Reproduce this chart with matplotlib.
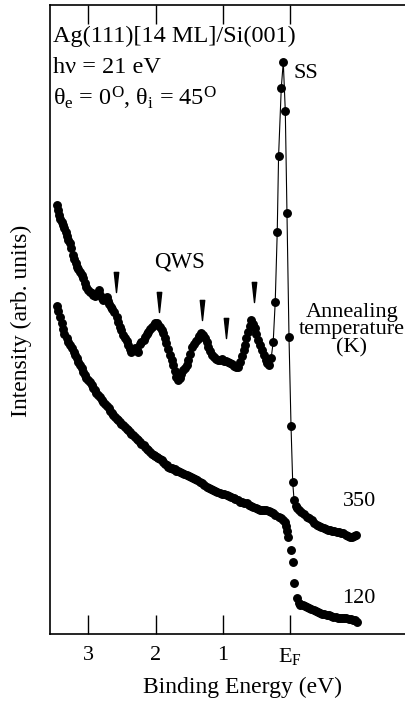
import matplotlib
matplotlib.use('Agg')
import matplotlib.pyplot as plt
import numpy as np
from matplotlib.path import Path

plt.rcParams['font.family'] = ['Liberation Serif', 'DejaVu Serif']
plt.rcParams['mathtext.fontset'] = 'custom'
plt.rcParams['mathtext.rm'] = 'Liberation Serif'
plt.rcParams['mathtext.it'] = 'Liberation Serif:italic'


# Annealed at 350 K: binding energy (eV) and intensity (arb. units)
E_350 = [3.47, 3.45, 3.43, 3.42, 3.39, 3.38, 3.36, 3.34, 3.32, 3.30, 3.27, 3.26, 3.23, 3.21,
         3.19, 3.17, 3.16, 3.13, 3.10, 3.08, 3.05, 3.03, 3.00, 2.98, 2.95, 2.93, 2.90, 2.87,
         2.84, 2.82, 2.80, 2.78, 2.75, 2.73, 2.71, 2.69, 2.67, 2.65, 2.62, 2.58, 2.56, 2.53,
         2.51, 2.49, 2.46, 2.43, 2.41, 2.38, 2.36, 2.33, 2.31, 2.28, 2.26, 2.23, 2.21, 2.18,
         2.16, 2.13, 2.11, 2.08, 2.06, 2.03, 2.01, 1.98, 1.96, 1.94, 1.91, 1.89, 1.86, 1.84,
         1.81, 1.79, 1.76, 1.74, 1.71, 1.69, 1.67, 1.64, 1.62, 1.59, 1.56, 1.54, 1.52, 1.49,
         1.46, 1.43, 1.40, 1.37, 1.35, 1.32, 1.30, 1.27, 1.24, 1.22, 1.19, 1.16, 1.13, 1.10,
         1.07, 1.04, 1.01, 0.98, 0.95, 0.92, 0.89, 0.86, 0.83, 0.80, 0.77, 0.74, 0.71, 0.69,
         0.67, 0.65, 0.62, 0.60, 0.58, 0.55, 0.52, 0.50, 0.48, 0.45, 0.42, 0.39, 0.36, 0.34,
         0.31, 0.28, 0.25, 0.22, 0.19, 0.17, 0.13, 0.10, 0.07, 0.045, 0.015, -0.015, -0.04,
         -0.06, -0.09, -0.11, -0.14, -0.17, -0.21, -0.25, -0.28, -0.32, -0.36, -0.40, -0.43,
         -0.46, -0.50, -0.54, -0.57, -0.60, -0.63, -0.66, -0.70, -0.73, -0.76, -0.79, -0.83,
         -0.86, -0.89, -0.92, -0.95, -0.98]
I_350 = [42.9, 42.4, 41.9, 41.5, 41.2, 40.9, 40.6, 40.2, 39.8, 39.4, 39.1, 38.6, 37.9, 37.5,
         37.1, 36.7, 36.5, 36.2, 35.9, 35.6, 35.1, 34.7, 34.4, 34.2, 34.1, 33.9, 33.8, 34.0,
         34.4, 33.9, 33.6, 33.4, 33.5, 33.7, 33.3, 33.0, 32.7, 32.5, 32.2, 31.7, 31.2, 30.7,
         30.4, 29.9, 29.6, 29.3, 28.9, 28.5, 28.2, 28.5, 28.6, 28.4, 28.2, 29.0, 29.2, 29.4,
         29.7, 30.0, 30.2, 30.5, 30.7, 30.9, 31.1, 31.1, 30.9, 30.7, 30.4, 30.1, 29.6, 29.1,
         28.5, 27.9, 27.4, 26.9, 26.3, 25.7, 25.4, 25.6, 26.0, 26.4, 26.6, 26.9, 27.4, 28.0,
         28.7, 29.0, 29.3, 29.5, 29.8, 30.1, 29.9, 29.6, 29.2, 28.7, 28.3, 27.9, 27.7, 27.5,
         27.4, 27.4, 27.5, 27.3, 27.3, 27.2, 27.1, 27.0, 26.8, 26.7, 26.7, 27.2, 27.8, 28.4,
         28.9, 29.6, 30.2, 30.8, 31.4, 31.0, 30.6, 30.0, 29.4, 28.9, 28.4, 27.9, 27.4, 27.1,
         26.9, 27.6, 29.2, 33.2, 40.2, 47.8, 54.6, 57.2, 52.3, 42.1, 29.7, 20.8, 15.2,
         13.4, 12.8, 12.6, 12.4, 12.2, 12.0, 11.7, 11.6, 11.4, 11.1, 10.9, 10.8,
         10.7, 10.6, 10.5, 10.4, 10.4, 10.3, 10.3, 10.2, 10.2, 10.1, 10.1, 9.9,
         9.8, 9.7, 9.7, 9.8, 9.9]

# Annealed at 120 K
E_120 = [3.47, 3.45, 3.42, 3.40, 3.38, 3.36, 3.32, 3.30, 3.27, 3.25, 3.22, 3.20, 3.17, 3.15,
         3.13, 3.10, 3.08, 3.05, 3.03, 3.00, 2.98, 2.95, 2.93, 2.90, 2.88, 2.85, 2.83, 2.80,
         2.78, 2.75, 2.73, 2.70, 2.68, 2.65, 2.63, 2.60, 2.58, 2.56, 2.53, 2.51, 2.48, 2.46,
         2.43, 2.41, 2.38, 2.36, 2.33, 2.31, 2.28, 2.26, 2.23, 2.21, 2.18, 2.16, 2.13, 2.11,
         2.08, 2.06, 2.03, 2.01, 1.98, 1.96, 1.93, 1.91, 1.89, 1.86, 1.83, 1.81, 1.79, 1.76,
         1.74, 1.71, 1.69, 1.66, 1.64, 1.61, 1.58, 1.54, 1.51, 1.48, 1.44, 1.41, 1.38, 1.34,
         1.31, 1.28, 1.24, 1.21, 1.18, 1.14, 1.12, 1.08, 1.04, 1.01, 0.98, 0.94, 0.91, 0.88,
         0.84, 0.82, 0.78, 0.74, 0.71, 0.68, 0.64, 0.61, 0.58, 0.55, 0.51, 0.48, 0.45, 0.42,
         0.38, 0.35, 0.31, 0.28, 0.25, 0.22, 0.17, 0.14, 0.10, 0.07, 0.06, 0.04, 0.03, -0.01,
         -0.04, -0.06, -0.10, -0.13, -0.15, -0.19, -0.22, -0.25, -0.28, -0.31, -0.35, -0.38,
         -0.41, -0.45, -0.48, -0.51, -0.55, -0.58, -0.61, -0.64, -0.68, -0.71, -0.74, -0.78,
         -0.81, -0.84, -0.88, -0.91, -0.94, -0.97, -0.99]
I_120 = [32.8, 32.3, 31.7, 31.1, 30.5, 30.0, 29.6, 29.2, 28.9, 28.6, 28.2, 27.9, 27.6, 27.2,
         26.9, 26.6, 26.2, 25.9, 25.6, 25.4, 25.2, 24.9, 24.6, 24.4, 24.1, 23.9, 23.7, 23.4,
         23.2, 23.0, 22.8, 22.6, 22.3, 22.1, 21.9, 21.7, 21.5, 21.4, 21.2, 21.0, 20.9, 20.7,
         20.5, 20.4, 20.2, 20.0, 19.9, 19.7, 19.5, 19.4, 19.2, 19.0, 18.9, 18.7, 18.5, 18.4,
         18.2, 18.0, 17.9, 17.8, 17.7, 17.6, 17.5, 17.4, 17.2, 17.0, 16.9, 16.7, 16.6, 16.6,
         16.5, 16.5, 16.3, 16.3, 16.2, 16.1, 16.0, 15.9, 15.8, 15.7, 15.6, 15.5, 15.4, 15.2,
         15.1, 14.9, 14.7, 14.6, 14.5, 14.4, 14.3, 14.2, 14.1, 14.0, 14.0, 13.9, 13.8, 13.7,
         13.6, 13.5, 13.4, 13.2, 13.2, 13.1, 13.1, 12.9, 12.8, 12.7, 12.6, 12.5, 12.4, 12.4,
         12.4, 12.4, 12.3, 12.2, 12.1, 11.9, 11.7, 11.6, 11.4, 11.2, 10.8, 10.3, 9.7, 8.4,
         7.2, 5.1, 3.6, 3.1, 2.9, 2.9, 2.8, 2.7, 2.6, 2.5, 2.4, 2.3,
         2.2, 2.1, 2.0, 2.0, 1.9, 1.9, 1.8, 1.7, 1.7, 1.6, 1.6, 1.6,
         1.6, 1.6, 1.5, 1.5, 1.4, 1.4, 1.2]

# QWS markers (energy, intensity of wedge centre)
E_qws = [2.59, 1.95, 1.31, 0.95, 0.54]
I_qws = [35.15, 33.2, 32.4, 30.55, 34.2]

xticks = [3, 2, 1, 0]
xticklabels = ['3', '2', '1', r'E$_{\rm F}$']


fig = plt.figure(figsize=(4.06, 7.03), dpi=100)
ax = fig.add_axes([0.1232, 0.0982, 0.8768, 0.8947])

ax.plot(E_350, I_350, '-', color='black', lw=0.8, marker='o', ms=5.4, mec='black', mfc='black')
ax.plot(E_120, I_120, 'o', color='black', ms=5.4)

# narrow wedges pointing down
wedge = Path([(-0.22, 1.0), (0.22, 1.0), (0.0, -1.0), (-0.22, 1.0)],
             [Path.MOVETO, Path.LINETO, Path.LINETO, Path.CLOSEPOLY])
ax.plot(E_qws, I_qws, linestyle='none', marker=wedge, ms=14.5, color='black')

ax.set_xlim(3.571, -1.726)
ax.set_ylim(0, 62.9)
ax.set_xticks(xticks)
ax.set_xticklabels(xticklabels)
ax.set_yticks([])
ax.spines['right'].set_visible(False)
for s in ['left', 'top', 'bottom']:
    ax.spines[s].set_linewidth(1.2)
ax.tick_params(axis='x', direction='in', length=14, width=1.0, top=True,
               labelsize=16, pad=9)

ax.set_xlabel('Binding Energy (eV)', fontsize=17)
ax.xaxis.set_label_coords(0.542, -0.068)
ax.set_ylabel('Intensity (arb. units)', fontsize=17)
ax.yaxis.set_label_coords(-0.05, 0.497)

ax.text(3.52, 59.2, 'Ag(111)[14 ML]/Si(001)', fontsize=17.5, va='baseline')
ax.text(3.52, 56.1, 'h\u03bd = 21 eV', fontsize=17.5, va='baseline')
ax.text(3.52, 52.8, '\u03b8$_{\\rm e}$ = 0$^{\\rm O}$, \u03b8$_{\\rm i}$ = 45$^{\\rm O}$',
        fontsize=17.5, va='baseline')
ax.text(-0.05, 55.6, 'SS', fontsize=16, va='baseline')
ax.text(1.64, 37.2, 'QWS', fontsize=16.5, ha='center', va='center')
ax.text(-0.92, 30.4, 'Annealing\ntemperature\n(K)', fontsize=16, ha='center', va='center',
        linespacing=0.9)
ax.text(-1.03, 13.2, '350', fontsize=16, ha='center', va='center')
ax.text(-1.03, 3.55, '120', fontsize=16, ha='center', va='center')

plt.savefig('out.png', dpi=100)
plt.close()
